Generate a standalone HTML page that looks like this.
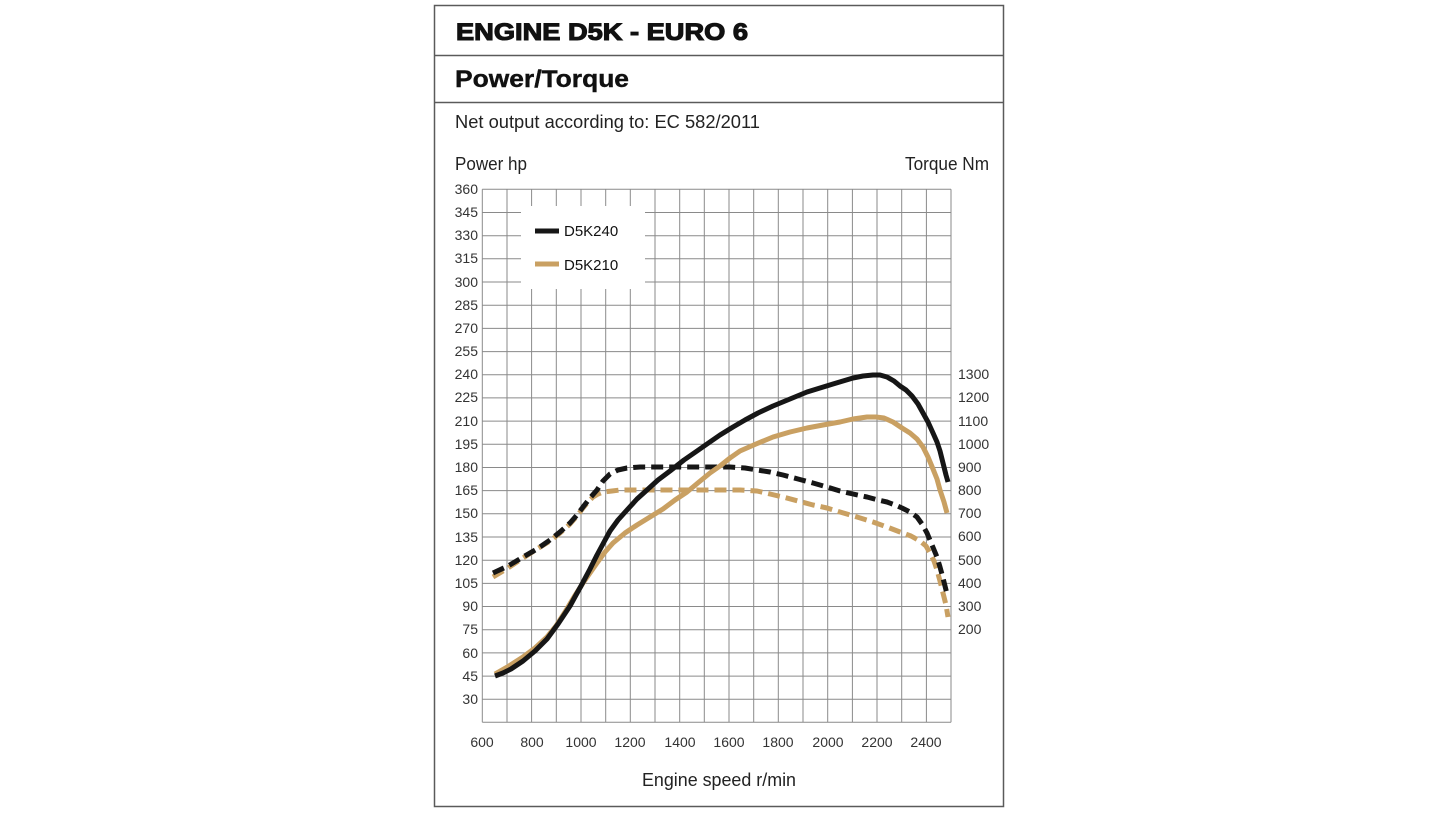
<!DOCTYPE html>
<html><head><meta charset="utf-8"><style>
html,body{margin:0;padding:0;background:#fff;}
svg{display:block;}
text{font-family:"Liberation Sans",Arial,sans-serif;}
</style></head><body>
<svg width="1440" height="813" viewBox="0 0 1440 813" xmlns="http://www.w3.org/2000/svg">
<rect width="1440" height="813" fill="#fff"/>
<!-- frame -->
<rect x="434.5" y="5.5" width="569" height="801" fill="none" stroke="#5a5a5a" stroke-width="1.5"/>
<line x1="434.5" y1="55.5" x2="1003.5" y2="55.5" stroke="#5a5a5a" stroke-width="1.5"/>
<line x1="434.5" y1="102.5" x2="1003.5" y2="102.5" stroke="#5a5a5a" stroke-width="1.5"/>
<text x="456" y="40" font-size="24" font-weight="bold" fill="#111" stroke="#111" stroke-width="1.1" textLength="292" lengthAdjust="spacingAndGlyphs">ENGINE D5K - EURO 6</text>
<text x="455" y="87" font-size="24" font-weight="bold" fill="#111" stroke="#111" stroke-width="0.4" textLength="174" lengthAdjust="spacingAndGlyphs">Power/Torque</text>
<text x="455" y="128" font-size="18" fill="#222" textLength="305" lengthAdjust="spacingAndGlyphs">Net output according to: EC 582/2011</text>
<text x="455" y="170" font-size="18" fill="#222" textLength="72" lengthAdjust="spacingAndGlyphs">Power hp</text>
<text x="989" y="170" font-size="18" fill="#222" text-anchor="end" textLength="84" lengthAdjust="spacingAndGlyphs">Torque Nm</text>
<text x="719" y="786" font-size="18" fill="#222" text-anchor="middle" textLength="154" lengthAdjust="spacingAndGlyphs">Engine speed r/min</text>

<!-- grid -->
<g stroke="#8a8a8a" stroke-width="1">
<line x1="482.3" y1="189.3" x2="482.3" y2="722.3"/>
<line x1="507.0" y1="189.3" x2="507.0" y2="722.3"/>
<line x1="531.6" y1="189.3" x2="531.6" y2="722.3"/>
<line x1="556.3" y1="189.3" x2="556.3" y2="722.3"/>
<line x1="581.0" y1="189.3" x2="581.0" y2="722.3"/>
<line x1="605.7" y1="189.3" x2="605.7" y2="722.3"/>
<line x1="630.3" y1="189.3" x2="630.3" y2="722.3"/>
<line x1="655.0" y1="189.3" x2="655.0" y2="722.3"/>
<line x1="679.7" y1="189.3" x2="679.7" y2="722.3"/>
<line x1="704.3" y1="189.3" x2="704.3" y2="722.3"/>
<line x1="729.0" y1="189.3" x2="729.0" y2="722.3"/>
<line x1="753.7" y1="189.3" x2="753.7" y2="722.3"/>
<line x1="778.3" y1="189.3" x2="778.3" y2="722.3"/>
<line x1="803.0" y1="189.3" x2="803.0" y2="722.3"/>
<line x1="827.7" y1="189.3" x2="827.7" y2="722.3"/>
<line x1="852.4" y1="189.3" x2="852.4" y2="722.3"/>
<line x1="877.0" y1="189.3" x2="877.0" y2="722.3"/>
<line x1="901.7" y1="189.3" x2="901.7" y2="722.3"/>
<line x1="926.4" y1="189.3" x2="926.4" y2="722.3"/>
<line x1="951.0" y1="189.3" x2="951.0" y2="722.3"/>
<line x1="482.3" y1="189.3" x2="951" y2="189.3"/>
<line x1="482.3" y1="212.5" x2="951" y2="212.5"/>
<line x1="482.3" y1="235.7" x2="951" y2="235.7"/>
<line x1="482.3" y1="258.8" x2="951" y2="258.8"/>
<line x1="482.3" y1="282.0" x2="951" y2="282.0"/>
<line x1="482.3" y1="305.2" x2="951" y2="305.2"/>
<line x1="482.3" y1="328.4" x2="951" y2="328.4"/>
<line x1="482.3" y1="351.6" x2="951" y2="351.6"/>
<line x1="482.3" y1="374.7" x2="951" y2="374.7"/>
<line x1="482.3" y1="397.9" x2="951" y2="397.9"/>
<line x1="482.3" y1="421.1" x2="951" y2="421.1"/>
<line x1="482.3" y1="444.3" x2="951" y2="444.3"/>
<line x1="482.3" y1="467.5" x2="951" y2="467.5"/>
<line x1="482.3" y1="490.6" x2="951" y2="490.6"/>
<line x1="482.3" y1="513.8" x2="951" y2="513.8"/>
<line x1="482.3" y1="537.0" x2="951" y2="537.0"/>
<line x1="482.3" y1="560.2" x2="951" y2="560.2"/>
<line x1="482.3" y1="583.4" x2="951" y2="583.4"/>
<line x1="482.3" y1="606.5" x2="951" y2="606.5"/>
<line x1="482.3" y1="629.7" x2="951" y2="629.7"/>
<line x1="482.3" y1="652.9" x2="951" y2="652.9"/>
<line x1="482.3" y1="676.1" x2="951" y2="676.1"/>
<line x1="482.3" y1="699.3" x2="951" y2="699.3"/>
<line x1="482.3" y1="722.3" x2="951" y2="722.3"/>
</g>

<!-- legend box -->
<rect x="521" y="206" width="124" height="83" fill="#fff"/>
<line x1="535" y1="231" x2="559" y2="231" stroke="#161616" stroke-width="5"/>
<line x1="535" y1="264" x2="559" y2="264" stroke="#c9a062" stroke-width="5"/>
<text x="564" y="236" font-size="15" fill="#111">D5K240</text>
<text x="564" y="270" font-size="15" fill="#111">D5K210</text>

<!-- left tick labels -->
<g font-size="14" fill="#333" text-anchor="end">
<text x="478" y="194">360</text>
<text x="478" y="217">345</text>
<text x="478" y="240">330</text>
<text x="478" y="263">315</text>
<text x="478" y="287">300</text>
<text x="478" y="310">285</text>
<text x="478" y="333">270</text>
<text x="478" y="356">255</text>
<text x="478" y="379">240</text>
<text x="478" y="402">225</text>
<text x="478" y="426">210</text>
<text x="478" y="449">195</text>
<text x="478" y="472">180</text>
<text x="478" y="495">165</text>
<text x="478" y="518">150</text>
<text x="478" y="542">135</text>
<text x="478" y="565">120</text>
<text x="478" y="588">105</text>
<text x="478" y="611">90</text>
<text x="478" y="634">75</text>
<text x="478" y="658">60</text>
<text x="478" y="681">45</text>
<text x="478" y="704">30</text>
</g>
<!-- right tick labels -->
<g font-size="14" fill="#333">
<text x="958" y="379">1300</text>
<text x="958" y="402">1200</text>
<text x="958" y="426">1100</text>
<text x="958" y="449">1000</text>
<text x="958" y="472">900</text>
<text x="958" y="495">800</text>
<text x="958" y="518">700</text>
<text x="958" y="541">600</text>
<text x="958" y="565">500</text>
<text x="958" y="588">400</text>
<text x="958" y="611">300</text>
<text x="958" y="634">200</text>
</g>
<!-- x tick labels -->
<g font-size="14" fill="#333" text-anchor="middle">
<text x="482" y="747">600</text>
<text x="532" y="747">800</text>
<text x="581" y="747">1000</text>
<text x="630" y="747">1200</text>
<text x="680" y="747">1400</text>
<text x="729" y="747">1600</text>
<text x="778" y="747">1800</text>
<text x="828" y="747">2000</text>
<text x="877" y="747">2200</text>
<text x="926" y="747">2400</text>
</g>

<!-- curves -->
<g fill="none" stroke-linejoin="round" stroke-width="5">
<polyline stroke="#c9a062" stroke-dasharray="12 6" points="493,577 508,568 523,558 537,549 550,541 560,533 570,524 577,516 583,508 588,502 593,497 598,494 603,492 612,491 620,490 660,490 700,490 740,490 757,491 770,494 783,497 798,501 813,505 827,508 840,512 857,517 873,522 887,527 900,532 911,536 920,541 926,546 930,553 934,561 937,570 940,581 943,593 946,605 948,617"/>
<polyline stroke="#161616" stroke-dasharray="12 6" points="493,573 508,566 523,557 537,549 550,540 560,532 570,523 577,515 583,507 590,498 597,490 603,481 610,474 618,470 627,468 640,467 680,467 730,467 745,468 757,470 770,472 783,475 798,479 813,483 827,487 840,491 853,494 867,497 878,500 887,502 895,505 902,508 910,512 917,517 922,524 927,533 932,545 937,557 940,567 943,578 946,590 947,594"/>
<polyline stroke="#c9a062" points="495,674 509,666 523,657 535,648 547,637 556,626 565,612 574,597 583,583 590,573 597,563 605,552 613,543 625,533 637,525 650,517 663,509 675,500 687,492 699,482 710,473 720,466 730,458 740,451 756,444 773,437 790,432 807,428 823,425 840,422 853,419 867,417 876,417 884,418 893,422 902,428 910,433 917,439 923,447 928,457 933,469 937,479 940,490 944,502 947,513"/>
<polyline stroke="#161616" points="495,676 503,673 511,669 523,661 535,651 547,639 558,624 570,606 576,595 581,586 590,569 597,555 604,542 610,531 618,520 627,510 637,499 647,490 658,480 670,471 684,460 697,451 707,444 720,435 733,427 745,420 758,413 773,406 790,399 807,392 820,388 833,384 843,381 853,378 863,376 873,375 880,375 887,377 894,381 900,386 906,390 912,396 918,404 923,413 928,422 933,433 937,442 940,451 943,463 946,475 948,482"/>
</g>
</svg>
</body></html>
